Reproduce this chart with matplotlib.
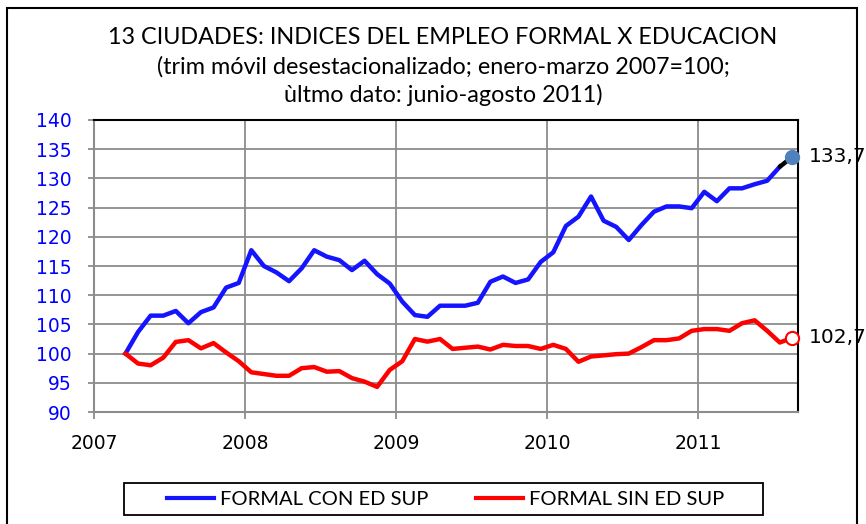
import matplotlib
matplotlib.use("Agg")
import matplotlib.pyplot as plt
from matplotlib.patches import Rectangle
from matplotlib.lines import Line2D
import numpy as np

# ---- data ----
start_year = 2007
start_month = 3  # March 2007
con_ed_sup = [100.0, 103.7, 106.5, 106.5, 107.3, 105.2, 107.1, 107.9, 111.3, 112.1,
              117.7, 115.0, 113.9, 112.4, 114.6, 117.7, 116.6, 116.0, 114.3, 115.9, 113.6, 112.0,
              108.9, 106.6, 106.3, 108.2, 108.2, 108.2, 108.7, 112.3, 113.2, 112.1, 112.7, 115.7,
              117.35, 121.85, 123.45, 126.9, 122.75, 121.7, 119.45, 122.0, 124.3, 125.2, 125.2, 124.9,
              127.7, 126.1, 128.3, 128.3, 129.0, 129.6, 132.0, 133.7]
sin_ed_sup = [100.0, 98.3, 98.0, 99.3, 102.0, 102.3, 100.9, 101.8, 100.2, 98.7,
              96.8, 96.5, 96.2, 96.2, 97.5, 97.7, 96.9, 97.0, 95.8, 95.2, 94.3, 97.2,
              98.7, 102.5, 102.05, 102.5, 100.8, 101.0, 101.2, 100.7, 101.5, 101.3, 101.3, 100.8,
              101.5, 100.8, 98.6, 99.5, 99.7, 99.9, 100.0, 101.1, 102.3, 102.3, 102.6, 103.9,
              104.2, 104.2, 103.9, 105.2, 105.7, 103.9, 101.9, 102.7]
year_ticks = [2007, 2008, 2009, 2010, 2011]
y_ticks = [90, 95, 100, 105, 110, 115, 120, 125, 130, 135, 140]
labels = ["FORMAL CON ED SUP", "FORMAL SIN ED SUP"]
title_lines = ["13 CIUDADES: INDICES DEL EMPLEO FORMAL X EDUCACION",
               "(trim móvil desestacionalizado; enero-marzo 2007=100;",
               "ùltmo dato: junio-agosto 2011)"]
end_labels = ["133,7", "102,7"]

n = len(con_ed_sup)
x = np.array([start_year + (start_month - 1 + i + 0.5) / 12.0 for i in range(n)])

narrow = ['Lato', 'DejaVu Sans']

W, H = 866, 524
fig = plt.figure(figsize=(W / 100, H / 100), dpi=100)
ax = fig.add_axes([94 / W, 1 - 412 / H, (798 - 94) / W, (412 - 120) / H])

blue = '#1414FF'
red = '#FF0000'
ax.plot(x[:-1], con_ed_sup[:-1], color=blue, lw=3.2, solid_joinstyle='round', zorder=3)
ax.plot(x[-2:], con_ed_sup[-2:], color='black', lw=3.2, solid_capstyle='round', zorder=3)
ax.plot(x, sin_ed_sup, color=red, lw=3.2, solid_joinstyle='round', zorder=3)
ax.plot(x[-1], con_ed_sup[-1], marker='o', ms=10, mfc='#4F81BD', mec='#4F81BD', zorder=4, clip_on=False)
ax.plot(x[-1], sin_ed_sup[-1], marker='o', ms=9.5, mfc='white', mec=red, mew=1.5, zorder=4, clip_on=False)

ax.annotate(end_labels[0], (x[-1], con_ed_sup[-1]), xytext=(16, 0), textcoords='offset pixels',
            ha='left', va='center', fontsize=14.5, family='DejaVu Sans', annotation_clip=False)
ax.annotate(end_labels[1], (x[-1], sin_ed_sup[-1]), xytext=(16, 0), textcoords='offset pixels',
            ha='left', va='center', fontsize=14.5, family='DejaVu Sans', annotation_clip=False)

ax.set_xlim(2007, 2011 + 100 / 151)
ax.set_ylim(90, 140)
ax.set_yticks(y_ticks)
ax.set_xticks(year_ticks)
ax.set_xticklabels([str(v) for v in year_ticks])
ax.grid(True, color='#8C8C8C', lw=1.3)
ax.set_axisbelow(True)
ax.tick_params(axis='y', colors='#8C8C8C', labelcolor='#0000FF', labelsize=13.5, length=4, width=1.3, pad=12)
ax.tick_params(axis='x', colors='#8C8C8C', labelcolor='black', labelsize=13.5, length=5, width=1.3, pad=11)
for s in ['left', 'bottom']:
    ax.spines[s].set_color('#8C8C8C')
    ax.spines[s].set_linewidth(1.5)
for s in ['top', 'right']:
    ax.spines[s].set_color('black')
    ax.spines[s].set_linewidth(1.5)

# title
for i, t in enumerate(title_lines):
    fig.text(443 / W, 1 - (38 + 28.5 * i) / H, t, ha='center', va='center', fontsize=16.8, family=narrow)

# legend (entries without frame, box drawn separately)
handles = [Line2D([], [], color=blue, lw=3), Line2D([], [], color=red, lw=3)]
leg = fig.legend(handles, labels, ncol=2, loc='center',
                 bbox_to_anchor=(445.5 / W, 1 - 499 / H),
                 prop={'family': narrow, 'size': 14.5}, frameon=False,
                 handlelength=2.35, columnspacing=2.35, handletextpad=0.3,
                 borderpad=0.0, borderaxespad=0)
fig.patches.append(Rectangle((124 / W, 1 - 515 / H), (763 - 124) / W, 32 / H, transform=fig.transFigure,
                             fill=False, edgecolor='black', lw=1.3))

# outer frame
fig.patches.append(Rectangle((7 / W, -0.05), (857 - 7) / W, 1.05 - 8 / H, transform=fig.transFigure,
                             fill=False, edgecolor='black', lw=1.5))

fig.savefig('out.png', dpi=100)
